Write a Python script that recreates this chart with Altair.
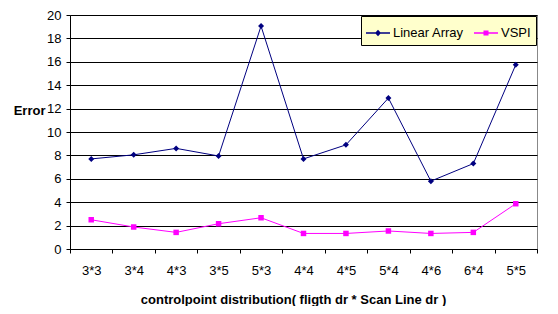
import altair as alt
import pandas as pd

categories = ["3*3", "3*4", "4*3", "3*5", "5*3", "4*4", "4*5", "5*4", "4*6", "6*4", "5*5"]
linear_array = [7.7, 8.05, 8.6, 7.95, 19.05, 7.7, 8.9, 12.9, 5.8, 7.3, 15.75]
vspi = [2.5, 1.88, 1.42, 2.16, 2.67, 1.33, 1.33, 1.54, 1.33, 1.42, 3.87]
series_names = ["Linear Array", "VSPI"]
series_colors = ["#000080", "#FF00FF"]
y_ticks = [0, 2, 4, 6, 8, 10, 12, 14, 16, 18, 20]

rows = []
for name, vals in zip(series_names, [linear_array, vspi]):
    for c, v in zip(categories, vals):
        rows.append({"cat": c, "series": name, "value": v})
df = pd.DataFrame(rows)

FONT = "Liberation Sans"

x_enc = alt.X(
    "cat:N",
    sort=categories,
    scale=alt.Scale(type="band", paddingInner=0, paddingOuter=0),
    axis=alt.Axis(
        title="controlpoint distribution( fligth dr * Scan Line dr )",
        titleFont=FONT, titleFontSize=13, titleFontWeight="bold", titleColor="black",
        titleX=223, titleY=54, titleBaseline="alphabetic", titleAnchor="middle", titleAlign="center",
        labelFont=FONT, labelFontSize=13, labelColor="black", labelAngle=0,
        labelPadding=11, labelBaseline="top",
        tickBand="extent", tickSize=4, tickColor="black", domainColor="black",
        grid=False,
    ),
)
y_enc = alt.Y(
    "value:Q",
    scale=alt.Scale(domain=[0, 20], nice=False),
    axis=alt.Axis(
        title="Error", titleAngle=0, titleFont=FONT, titleFontSize=13, titleFontWeight="bold",
        titleColor="black", titleAlign="right", titleBaseline="alphabetic",
        titleX=-25, titleY=99,
        values=y_ticks, labelFont=FONT, labelFontSize=13, labelColor="black",
        labelPadding=5, tickSize=4, tickColor="black", domainColor="black",
        grid=True, gridColor="black", gridWidth=1,
    ),
)

base = alt.Chart(df)

line = base.mark_line(strokeWidth=1).encode(
    x=x_enc, y=y_enc,
    color=alt.Color("series:N", scale=alt.Scale(domain=series_names, range=series_colors), legend=None),
)
pts = base.mark_point(filled=True, opacity=1).encode(
    x=x_enc, y=y_enc,
    color=alt.Color("series:N", scale=alt.Scale(domain=series_names, range=series_colors), legend=None),
    shape=alt.Shape("series:N", scale=alt.Scale(domain=series_names, range=["diamond", "square"]), legend=None),
    size=alt.Size("series:N", scale=alt.Scale(domain=series_names, range=[36, 30]), legend=None),
)

leg_paths = [
    "M-1,-0.055H1V0.055H-1Z M-0.25,0L0,-0.28L0.25,0L0,0.28Z",
    "M-1,-0.055H1V0.055H-1Z M-0.21,-0.21H0.21V0.21H-0.21Z",
]
leg_cfg = dict(
    title=None, orient="none", legendX=291, legendY=1, direction="horizontal",
    fillColor="#FFFFCC", strokeColor="black", padding=5,
    labelFont=FONT, labelFontSize=13, labelColor="black", labelOffset=3,
    columnPadding=10, symbolSize=576, symbolOpacity=1, symbolStrokeWidth=0,
)
leg = base.transform_filter("false").mark_point(filled=True).encode(
    x=x_enc, y=y_enc,
    color=alt.Color("series:N", scale=alt.Scale(domain=series_names, range=series_colors),
                    legend=alt.Legend(**leg_cfg)),
    shape=alt.Shape("series:N", scale=alt.Scale(domain=series_names, range=leg_paths),
                    legend=alt.Legend(**leg_cfg)),
)

chart = alt.layer(line, pts, leg).resolve_scale(
    color="independent", shape="independent"
).properties(
    width=467, height=234,
    autosize=alt.AutoSizeParams(type="none"),
    padding={"left": 62, "top": 7, "right": 13, "bottom": 57},
    background="white",
).configure_view(stroke="#888888", strokeWidth=1)

chart.save("out.html", embed_options={"renderer": "svg", "actions": False})
